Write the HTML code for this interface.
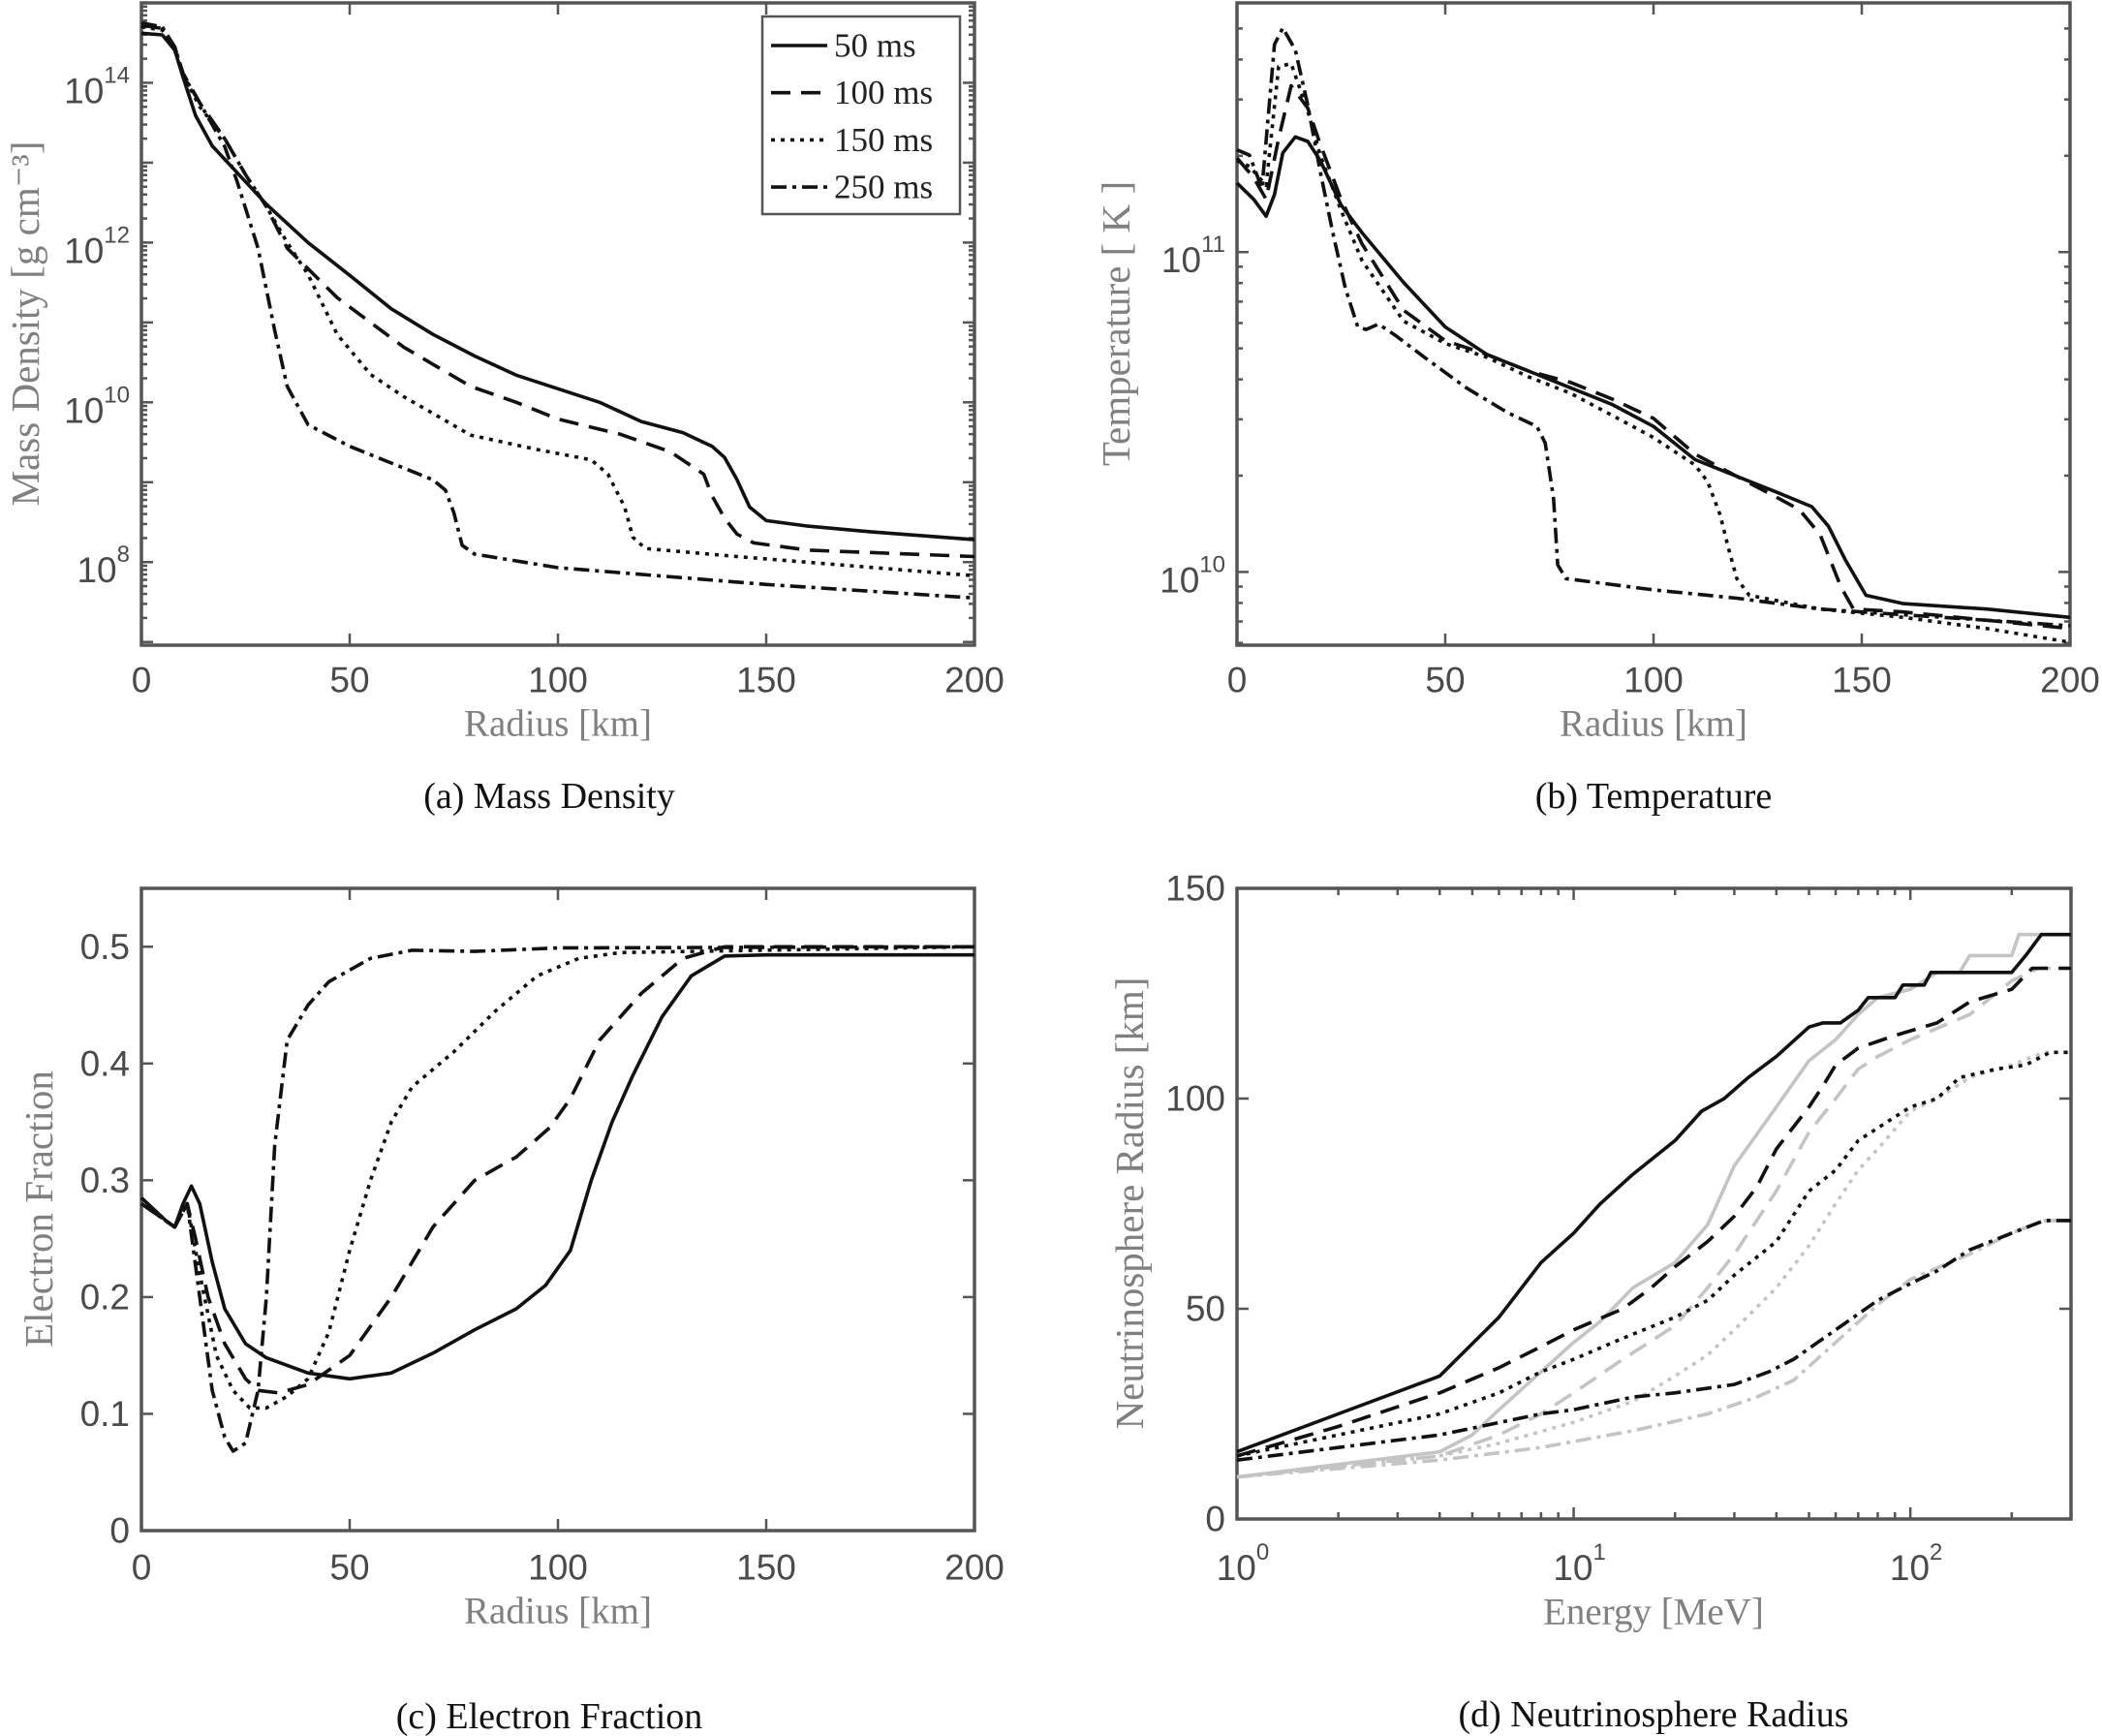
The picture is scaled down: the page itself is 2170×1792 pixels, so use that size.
<!DOCTYPE html>
<html><head><meta charset="utf-8"><style>
html,body{margin:0;padding:0;background:#fff}
svg{display:block}
.tk{font-family:"Liberation Sans",sans-serif;font-size:37px;fill:#4a4a4a}
.sup{font-size:24px}
.ttl{font-family:"Liberation Serif",serif;font-size:39px;fill:#808080}
.ttly{font-family:"Liberation Serif",serif;font-size:41px;fill:#808080}
.cap{font-family:"Liberation Serif",serif;font-size:38px;fill:#111}
.leg{font-family:"Liberation Serif",serif;font-size:35px;fill:#222}
</style></head><body>
<svg id="fig" width="2170" height="1792" viewBox="0 0 2170 1792" xmlns="http://www.w3.org/2000/svg"></svg>
<script>
// ---- Panel (a) Mass density: [radius km, log10 density]
const aSolid=[[0,14.62],[5,14.6],[8,14.41],[10,14.07],[13,13.59],[17,13.21],[22,12.93],[30,12.48],[40,12.0],[50,11.59],[60,11.17],[70,10.85],[80,10.58],[90,10.34],[100,10.17],[110,10.0],[120,9.76],[130,9.62],[137,9.45],[140,9.31],[143,9.03],[146,8.69],[150,8.52],[160,8.45],[175,8.38],[200,8.28]];
const aDashed=[[0,14.72],[5,14.68],[8,14.45],[10,14.12],[14,13.75],[20,13.3],[25,12.85],[30,12.45],[35,11.93],[47,11.31],[63,10.69],[79,10.2],[90,10.0],[100,9.79],[115,9.6],[127,9.38],[135,9.1],[137,8.83],[140,8.55],[143,8.35],[147,8.24],[160,8.15],[200,8.07]];
const aDotted=[[0,14.7],[5,14.66],[8,14.45],[10,14.1],[14,13.7],[20,13.3],[25,12.85],[30,12.45],[35,12.0],[40,11.6],[47,10.85],[55,10.35],[63,10.07],[79,9.59],[95,9.41],[108,9.28],[112,9.1],[116,8.69],[118,8.31],[121,8.17],[143,8.07],[200,7.83]];
const aDashDot=[[0,14.75],[5,14.7],[8,14.45],[10,14.1],[14,13.75],[20,13.2],[23,12.76],[28,11.93],[32,10.9],[35,10.2],[40,9.72],[50,9.45],[60,9.24],[70,9.03],[73,8.9],[75,8.62],[77,8.21],[80,8.1],[100,7.93],[150,7.72],[200,7.55]];
// ---- Panel (b) Temperature: [radius km, log10 T]
const bSolid=[[0,11.216],[4,11.165],[7,11.112],[9,11.18],[11,11.31],[14,11.36],[17,11.346],[20,11.286],[25,11.147],[30,11.061],[40,10.905],[50,10.766],[60,10.68],[70,10.628],[80,10.576],[90,10.524],[100,10.455],[110,10.351],[120,10.299],[130,10.247],[138,10.204],[142,10.143],[146,10.039],[151,9.927],[160,9.901],[180,9.884],[200,9.858]];
const bDashed=[[0,11.294],[4,11.233],[7,11.165],[10,11.355],[13,11.52],[17,11.45],[20,11.337],[25,11.165],[30,11.026],[40,10.818],[50,10.723],[60,10.68],[70,10.628],[80,10.593],[90,10.541],[100,10.48],[110,10.368],[120,10.299],[130,10.23],[135,10.195],[140,10.117],[145,9.953],[148,9.884],[160,9.875],[200,9.823]];
const bDotted=[[0,11.286],[3,11.268],[7,11.208],[10,11.58],[13,11.589],[17,11.441],[20,11.303],[25,11.13],[30,10.974],[40,10.784],[50,10.714],[60,10.671],[70,10.61],[80,10.559],[90,10.49],[100,10.42],[110,10.334],[113,10.282],[116,10.178],[118,10.074],[120,9.979],[123,9.927],[140,9.884],[160,9.858],[180,9.823],[200,9.78]];
const bDashDot=[[0,11.32],[3,11.303],[6,11.199],[9,11.649],[11,11.701],[14,11.632],[17,11.459],[20,11.251],[23,11.061],[26,10.888],[29,10.766],[31,10.758],[34,10.775],[38,10.74],[45,10.671],[55,10.576],[65,10.498],[72,10.455],[74,10.403],[76,10.23],[77,10.022],[79,9.979],[100,9.944],[120,9.918],[140,9.884],[160,9.866],[200,9.832]];
// ---- Panel (c) Electron fraction
const cSolid=[[0,0.285],[3,0.275],[6,0.265],[8,0.26],[10,0.28],[12,0.295],[14,0.28],[17,0.23],[20,0.19],[25,0.16],[30,0.148],[40,0.135],[50,0.13],[60,0.135],[70,0.152],[80,0.172],[90,0.19],[97,0.21],[103,0.24],[108,0.3],[113,0.35],[118,0.39],[125,0.44],[132,0.475],[140,0.492],[150,0.493],[200,0.493]];
const cDashed=[[0,0.28],[6,0.265],[8,0.26],[11,0.28],[13,0.25],[16,0.2],[20,0.16],[25,0.13],[28,0.12],[33,0.118],[40,0.125],[50,0.15],[60,0.2],[70,0.26],[80,0.3],[90,0.32],[98,0.345],[103,0.37],[110,0.42],[120,0.46],[130,0.49],[140,0.5],[200,0.5]];
const cDotted=[[0,0.28],[8,0.26],[11,0.28],[14,0.22],[18,0.15],[22,0.12],[26,0.105],[30,0.105],[35,0.115],[40,0.13],[45,0.17],[50,0.24],[55,0.3],[60,0.35],[65,0.38],[75,0.41],[85,0.445],[95,0.475],[105,0.49],[115,0.495],[200,0.5]];
const cDashDot=[[0,0.28],[8,0.26],[11,0.28],[14,0.2],[17,0.12],[20,0.08],[22,0.068],[25,0.075],[28,0.12],[30,0.2],[32,0.33],[35,0.42],[40,0.45],[45,0.47],[55,0.49],[65,0.497],[80,0.496],[100,0.499],[200,0.5]];
// ---- Panel (d) Neutrinosphere radius: [energy MeV, radius km]
const dBlackSolid=[[1,16],[2,25],[4,34],[6,48],[8,61],[10,68],[12,75],[15,82],[20,90],[24,97],[28,100],[33,105],[40,110],[50,117],[55,118],[62,118],[70,121],[75,124],[90,124],[95,127],[110,127],[115,130],[200,130],[220,134],[245,139],[300,139]];
const dGraySolid=[[1,10],[2,13],[4,16],[5,20],[6,26],[8,35],[10,42],[12,47],[15,55],[20,61],[25,70],[30,84],[40,98],[50,109],[60,114],[70,120],[80,124],[100,126],[120,130],[140,130],[150,134],[200,134],[210,139],[300,139]];
const dBlackDashed=[[1,15],[2,22],[4,30],[6,36],[8,41],[10,45],[14,50],[17,55],[20,60],[25,66],[30,72],[35,79],[40,88],[50,98],[55,103],[60,108],[70,112],[90,115],[120,118],[150,123],[200,126],[230,131],[300,131]];
const dGrayDashed=[[1,10],[4,15],[6,20],[8,25],[10,30],[14,38],[20,46],[25,55],[30,63],[40,78],[50,92],[60,100],[70,107],[80,110],[100,114],[150,120],[200,128],[240,131],[300,131]];
const dBlackDotted=[[1,15],[2,20],[4,25],[6,30],[8,35],[10,38],[14,43],[20,48],[25,52],[30,58],[40,66],[50,78],[60,83],[70,90],[100,98],[120,100],[140,105],[180,107],[220,108],[260,111],[300,111]];
const dGrayDotted=[[1,10],[4,15],[6,18],[10,23],[15,28],[20,34],[25,39],[30,45],[40,55],[50,65],[60,75],[70,83],[80,88],[100,97],[120,100],[150,105],[200,108],[250,111],[300,111]];
const dBlackDashDot=[[1,14],[2,17],[4,20],[8,25],[10,26],[15,29],[20,30],[30,32],[38,35],[45,38],[60,45],[80,52],[100,56],[120,59],[150,64],[200,68],[250,71],[300,71]];
const dGrayDashDot=[[1,10],[4,14],[8,17],[15,21],[25,25],[35,29],[45,33],[60,42],[80,51],[100,57],[150,63],[200,68],[250,71],[300,71]];
// tick labels
const radiusTicks=[0,50,100,150,200];
const aLogTicks=[8,10,12,14];
const bLogTicks=[10,11];
const cTicks=[0,0.1,0.2,0.3,0.4,0.5];
const dYTicks=[0,50,100,150];
const dLogXTicks=[0,1,2];
const legendLabels=['50 ms','100 ms','150 ms','250 ms'];

const NS='http://www.w3.org/2000/svg';
const svg=document.getElementById('fig');
function mk(tag,attrs,parent){const e=document.createElementNS(NS,tag);for(const k in attrs)e.setAttribute(k,attrs[k]);(parent||svg).appendChild(e);return e;}
const STY={solid:'',dashed:'20 11',dotted:'4 6',dashdot:'16 6 4 6'};
const AX='#555';

function panel(name,box,xs,ys){
  const g=mk('g',{});
  
  
  return {g,box,X:v=>box.l+(xs(v)-xs(box.x0))/(xs(box.x1)-xs(box.x0))*(box.r-box.l),
          Y:v=>box.b-(ys(v)-ys(box.y0))/(ys(box.y1)-ys(box.y0))*(box.b-box.t)};
}
function frame(p){
  const b=p.box;
  const r=mk('rect',{x:b.l,y:b.t,width:b.r-b.l,height:b.b-b.t,fill:'none',stroke:AX,'stroke-width':3.5},p.g);
  
  
}
function tickX(p,px,len){const b=p.box;mk('line',{x1:px,y1:b.b,x2:px,y2:b.b-len,stroke:AX,'stroke-width':2.5},p.g);mk('line',{x1:px,y1:b.t,x2:px,y2:b.t+len,stroke:AX,'stroke-width':2.5},p.g);}
function tickY(p,py,len){const b=p.box;mk('line',{x1:b.l,y1:py,x2:b.l+len,y2:py,stroke:AX,'stroke-width':2.5},p.g);mk('line',{x1:b.r,y1:py,x2:b.r-len,y2:py,stroke:AX,'stroke-width':2.5},p.g);}
function series(p,data,sty,color,name,w){
  const d=data.map((q,i)=>(i?'L':'M')+p.X(q[0]).toFixed(1)+' '+p.Y(q[1]).toFixed(1)).join(' ');
  const e=mk('path',{d,fill:'none',stroke:color,'stroke-width':w||3.6,'stroke-dasharray':STY[sty],'stroke-linejoin':'round'},p.g);
  
  
}
function text(p,x,y,str,cls,anchor,name,rot){
  const t=mk('text',{x,y,class:cls,'text-anchor':anchor||'middle','dominant-baseline':'central'},p?p.g:svg);
  if(rot)t.setAttribute('transform','rotate(-90 '+x+' '+y+')');
  t.textContent=str;
  
  
  return t;
}
function powLabel(p,x,y,base,exp,anchor){
  const t=mk('text',{x,y,class:'tk','text-anchor':anchor,'dominant-baseline':'central'},p.g);
  
  
  const s1=mk('tspan',{},t);s1.textContent=base;
  const s2=mk('tspan',{class:'sup',dy:-16},t);s2.textContent=exp;
}
const lin=v=>v, lg=v=>Math.log10(v);
function radiusAxis(p,labY,titleY){
  radiusTicks.forEach(v=>{const px=p.X(v);tickX(p,px,12);text(p,px,labY,String(v),'tk','middle','x-tick-label');});
  text(p,(p.box.l+p.box.r)/2,titleY,'Radius [km]','ttl','middle','x-axis-title');
}

// Panel a
(function(){
  const p=panel('panel-mass-density',{l:146,r:1006,t:3,b:666,x0:0,x1:200,y0:6.96,y1:15.0},lin,lin);
  frame(p);
  for(let d=7;d<15;d++){for(let m=1;m<10;m++){const v=d+Math.log10(m);if(v<6.96||v>15)continue;tickY(p,p.Y(v),m===1?12:6);}}
  aLogTicks.forEach(e=>powLabel(p,p.box.l-12,p.Y(e)+8,'10',String(e),'end'));
  radiusAxis(p,702,747);
  text(p,26,334,'Mass Density [g cm\u207B\u00B3]','ttly','middle','y-axis-title',true);
  series(p,aSolid,'solid','#111','series-50ms');
  series(p,aDashed,'dashed','#111','series-100ms');
  series(p,aDotted,'dotted','#111','series-150ms');
  series(p,aDashDot,'dashdot','#111','series-250ms');
  const lg_=mk('g',{},p.g);
  mk('rect',{x:787,y:17,width:204,height:204,fill:'#fff',stroke:AX,'stroke-width':2.5},lg_);
  const stys=['solid','dashed','dotted','dashdot'];
  legendLabels.forEach((lab,i)=>{const y=47+i*48.7;
    const l=mk('line',{x1:796,y1:y,x2:854,y2:y,stroke:'#111','stroke-width':3.6,'stroke-dasharray':STY[stys[i]]},lg_);
    
    const t=mk('text',{x:861,y:y,class:'leg','dominant-baseline':'central'},lg_);t.textContent=lab;
    });
  text(null,567,822,'(a) Mass Density','cap','middle','caption-a');
})();
// Panel b
(function(){
  const p=panel('panel-temperature',{l:1277,r:2137,t:3,b:666,x0:0,x1:200,y0:9.771,y1:11.779},lin,lin);
  frame(p);
  for(let d=9;d<12;d++){for(let m=1;m<10;m++){const v=d+Math.log10(m);if(v<9.771||v>11.779)continue;tickY(p,p.Y(v),m===1?12:6);}}
  bLogTicks.forEach(e=>powLabel(p,p.box.l-12,p.Y(e)+8,'10',String(e),'end'));
  radiusAxis(p,702,747);
  text(p,1152,334,'Temperature [ K ]','ttly','middle','y-axis-title',true);
  series(p,bSolid,'solid','#111','series-50ms');
  series(p,bDashed,'dashed','#111','series-100ms');
  series(p,bDotted,'dotted','#111','series-150ms');
  series(p,bDashDot,'dashdot','#111','series-250ms');
  text(null,1707,822,'(b) Temperature','cap','middle','caption-b');
})();
// Panel c
(function(){
  const p=panel('panel-electron-fraction',{l:146,r:1006,t:917,b:1580,x0:0,x1:200,y0:0,y1:0.55},lin,lin);
  frame(p);
  cTicks.forEach(v=>{tickY(p,p.Y(v),12);text(p,p.box.l-12,p.Y(v),String(v),'tk','end','y-tick-label');});
  radiusAxis(p,1618,1663);
  text(p,40,1248,'Electron Fraction','ttly','middle','y-axis-title',true);
  series(p,cSolid,'solid','#111','series-50ms');
  series(p,cDashed,'dashed','#111','series-100ms');
  series(p,cDotted,'dotted','#111','series-150ms');
  series(p,cDashDot,'dashdot','#111','series-250ms');
  text(null,567,1772,'(c) Electron Fraction','cap','middle','caption-c');
})();
// Panel d
(function(){
  const p=panel('panel-neutrinosphere-radius',{l:1277,r:2138,t:917,b:1568,x0:1,x1:300,y0:0,y1:150},lg,lin);
  frame(p);
  for(let d=0;d<3;d++){for(let m=1;m<10;m++){const v=m*Math.pow(10,d);if(v>300)continue;tickX(p,p.X(v),m===1?12:7);}}
  dLogXTicks.forEach(e=>powLabel(p,p.X(Math.pow(10,e))+6,1618,'10',String(e),'middle'));
  dYTicks.forEach(v=>{tickY(p,p.Y(v),12);text(p,p.box.l-12,p.Y(v),String(v),'tk','end','y-tick-label');});
  text(p,1707,1664,'Energy [MeV]','ttl','middle','x-axis-title');
  text(p,1166,1242,'Neutrinosphere Radius [km]','ttly','middle','y-axis-title',true);
  const G='#c4c4c4',K='#111';
  series(p,dGraySolid,'solid',G,'gray-solid');
  series(p,dGrayDashed,'dashed',G,'gray-dashed');
  series(p,dGrayDotted,'dotted',G,'gray-dotted');
  series(p,dGrayDashDot,'dashdot',G,'gray-dashdot');
  series(p,dBlackSolid,'solid',K,'black-solid');
  series(p,dBlackDashed,'dashed',K,'black-dashed');
  series(p,dBlackDotted,'dotted',K,'black-dotted');
  series(p,dBlackDashDot,'dashdot',K,'black-dashdot');
  text(null,1707,1770,'(d) Neutrinosphere Radius','cap','middle','caption-d');
})();
</script>
</body></html>
